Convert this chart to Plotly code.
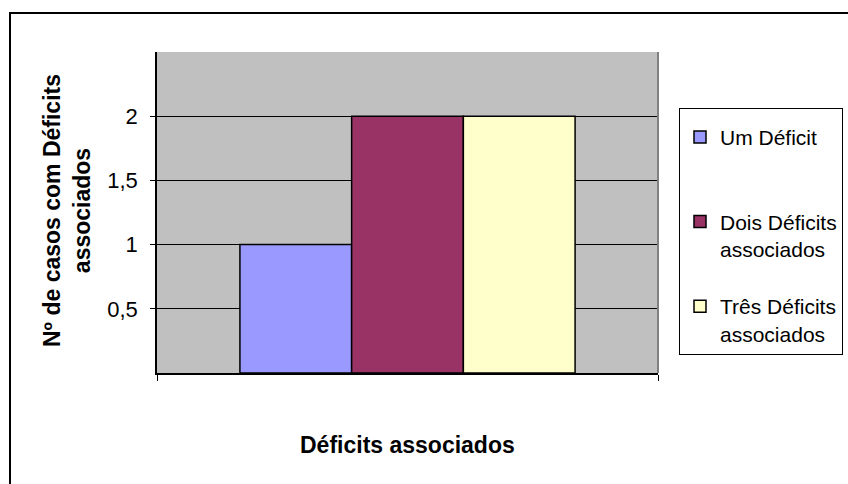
import plotly.graph_objects as go

# Data
categories = [""]
series_names = ["Um Déficit<br> ", "Dois Déficits<br>associados", "Três Déficits<br>associados"]
series_values = [[1], [2], [2]]
series_colors = ["#9999FF", "#993366", "#FFFFCC"]
y_tickvals = [0.5, 1, 1.5, 2]
y_ticktext = ["0,5", "1", "1,5", "2"]
y_title = "Nº de casos com Déficits<br>associados"
x_title = "Déficits associados"

W, H = 848, 484
L, R, T, B = 157, 658, 52, 373  # plot area in pixels
pw, ph = R - L, B - T

def px_x(p):
    return (p - L) / pw

def px_y(p):
    return (B - p) / ph

FONT = "Liberation Sans"

fig = go.Figure()
for name, vals, col in zip(series_names, series_values, series_colors):
    fig.add_trace(go.Bar(
        x=categories, y=vals, name=name,
        marker=dict(color=col, line=dict(color="black", width=1.5)),
        legendgroup=name,
    ))

fig.update_layout(
    width=W, height=H,
    margin=dict(l=L, r=W - R, t=T, b=H - B, autoexpand=False),
    paper_bgcolor="white",
    plot_bgcolor="#C0C0C0",
    barmode="group",
    bargap=0.331,
    bargroupgap=0,
    font=dict(family=FONT, color="black", size=21),
    showlegend=True,
    legend=dict(
        x=px_x(679), y=px_y(108), xanchor="left", yanchor="top",
        bgcolor="white", bordercolor="black", borderwidth=1,
        font=dict(family=FONT, size=21, color="black"),
        tracegroupgap=27,
        traceorder="grouped",
        itemwidth=30,
        valign="top",
        title=dict(text=" ", font=dict(size=6)),
    ),
    xaxis=dict(
        showticklabels=False, ticks="outside", tickson="boundaries",
        ticklen=6, tickcolor="black", tickwidth=1,
        showline=True, linecolor="black", linewidth=1.5,
        showgrid=False, fixedrange=True,
    ),
    yaxis=dict(
        range=[0, 2.5], tickvals=y_tickvals, ticktext=y_ticktext,
        ticks="outside", ticklen=5, tickcolor="black", tickwidth=1,
        ticklabelstandoff=8,
        tickfont=dict(family=FONT, size=22, color="black"),
        showgrid=True, gridcolor="black", gridwidth=1,
        showline=True, linecolor="black", linewidth=1.5,
        zeroline=False, fixedrange=True,
    ),
)

# Right edge of plot area (darker gray)
fig.add_shape(type="line", xref="paper", yref="paper",
              x0=1, x1=1, y0=0, y1=1,
              line=dict(color="#808080", width=2))

# Outer chart frame
fig.add_shape(type="rect", xref="paper", yref="paper",
              x0=px_x(10), x1=px_x(870), y0=px_y(510), y1=px_y(13),
              line=dict(color="black", width=2), fillcolor="rgba(0,0,0,0)",
              layer="above")

# Axis titles
fig.add_annotation(text=y_title, xref="paper", yref="paper",
                   x=px_x(67), y=px_y(211), textangle=-90,
                   showarrow=False, xanchor="center", yanchor="middle",
                   font=dict(family=FONT, size=23, color="black", weight="bold"))
fig.add_annotation(text=x_title, xref="paper", yref="paper",
                   x=0.5, y=px_y(445), showarrow=False,
                   xanchor="center", yanchor="middle",
                   font=dict(family=FONT, size=23, color="black", weight="bold"))

fig.write_html("out.html")
